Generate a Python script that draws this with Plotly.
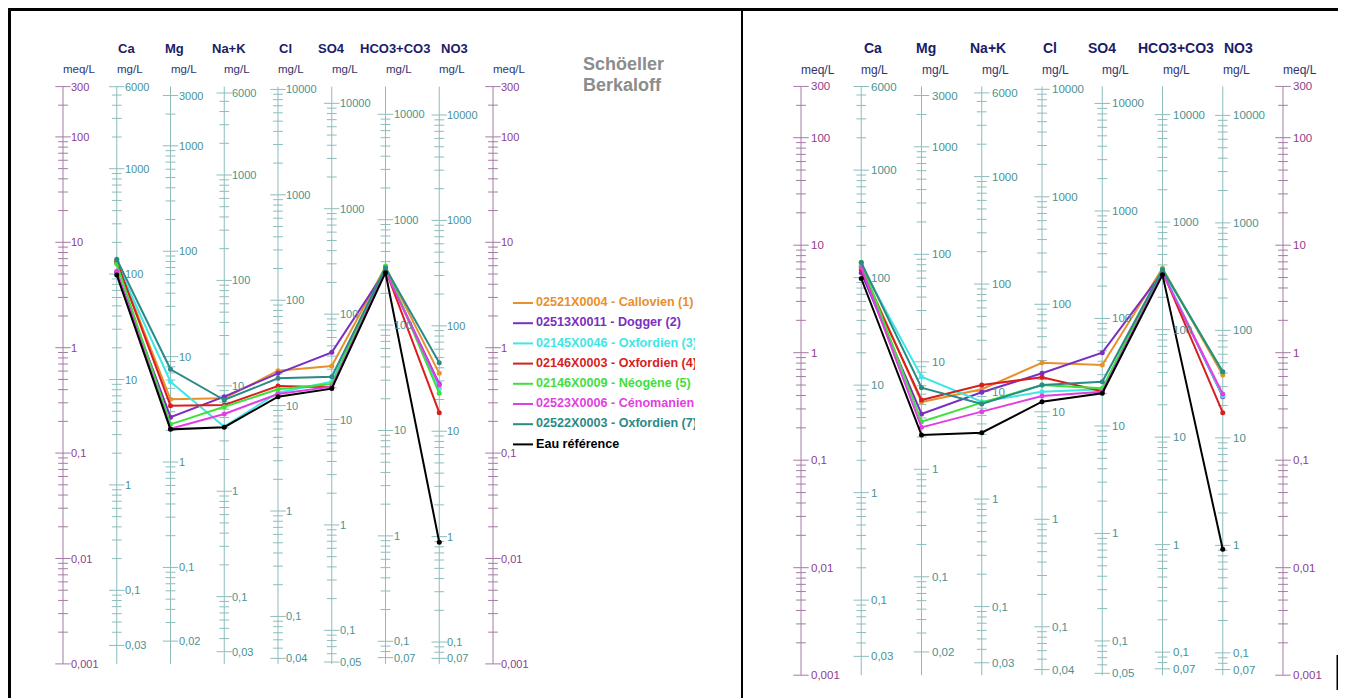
import plotly.graph_objects as go
import numpy as np

# page body has an 8px margin: figure is drawn in viewport coords minus OFF
OFF = 8
W, H = 1346 - OFF, 698 - OFF

# ---------------- data ----------------
ions = ["Ca", "Mg", "Na+K", "Cl", "SO4", "HCO3+CO3", "NO3"]
eq_weights = [20.04, 12.153, 22.99, 35.453, 48.03, 61.017, 62.005]
meq_range = [0.001, 300]
meq_labels = [300, 100, 10, 1, 0.1, 0.01, 0.001]
ca_labels = [6000, 1000, 100, 10, 1, 0.1, 0.03]
mg_labels = [3000, 1000, 100, 10, 1, 0.1, 0.02]
nak_labels = [6000, 1000, 100, 10, 1, 0.1, 0.03]
cl_labels = [10000, 1000, 100, 10, 1, 0.1, 0.04]
so4_labels = [10000, 1000, 100, 10, 1, 0.1, 0.05]
hco3_labels = [10000, 1000, 100, 10, 1, 0.1, 0.07]
no3_labels = [10000, 1000, 100, 10, 1, 0.1, 0.07]
ion_labels = [ca_labels, mg_labels, nak_labels, cl_labels, so4_labels, hco3_labels, no3_labels]

series_names = ["02521X0004 - Callovien (1)", "02513X0011 - Dogger (2)",
                "02145X0046 - Oxfordien (3)", "02146X0003 - Oxfordien (4)",
                "02146X0009 - Néogène (5)", "02523X0006 - Cénomanien (6)",
                "02522X0003 - Oxfordien (7)", "Eau référence"]
series_colors = ["#E8902C", "#7A2FC0", "#3FE6E6", "#D81E1E",
                 "#3EE03E", "#E23FE2", "#2A8A88", "#000000"]

# values in meq/L, order: Ca, Mg, Na+K, Cl, SO4, HCO3+CO3, NO3
left_s1 = [6.6, 0.324, 0.331, 0.605, 0.670, 5.85, 0.571]
left_s2 = [5.19, 0.219, 0.343, 0.571, 0.904, 5.4, 0.453]
left_s3 = [6.4, 0.475, 0.178, 0.374, 0.476, 5.6, 0.41]
left_s4 = [6.55, 0.282, 0.286, 0.433, 0.421, 5.5, 0.242]
left_s5 = [6.22, 0.1875, 0.275, 0.403, 0.453, 5.95, 0.369]
left_s6 = [5.3, 0.170, 0.235, 0.364, 0.427, 5.3, 0.442]
left_s7 = [6.9, 0.624, 0.319, 0.513, 0.531, 5.7, 0.721]
left_ref = [4.9, 0.168, 0.176, 0.343, 0.409, 5.15, 0.01425]

right_s1 = [6.3, 0.348, 0.457, 0.807, 0.768, 6.1, 0.621]
right_s2 = [5.55, 0.269, 0.428, 0.643, 1.0, 5.6, 0.390]
right_s3 = [6.5, 0.598, 0.350, 0.434, 0.457, 5.8, 0.395]
right_s4 = [5.9, 0.363, 0.501, 0.590, 0.438, 5.7, 0.277]
right_s5 = [6.95, 0.228, 0.343, 0.501, 0.466, 6.0, 0.66]
right_s6 = [6.2, 0.202, 0.283, 0.396, 0.434, 5.5, 0.413]
right_s7 = [6.9, 0.472, 0.333, 0.501, 0.537, 5.9, 0.666]
right_ref = [4.9, 0.1715, 0.180, 0.350, 0.419, 5.3, 0.01483]

left_series = [left_s1, left_s2, left_s3, left_s4, left_s5, left_s6, left_s7, left_ref]
right_series = [right_s1, right_s2, right_s3, right_s4, right_s5, right_s6, right_s7, right_ref]

# ---------------- styles / layout ----------------
ION_LINE = "#8DBDBD"
ION_TEXT = "#4A9292"
MEQ_LINE = "#A57AA5"
MEQ_TEXT = "#8E3C8E"
HEAD_COL = "#1C1C66"
UNIT_COL = "#2E3470"
FONT = "Liberation Sans, Arial, sans-serif"


def vx(x):
    """viewport pixel x -> figure pixel x"""
    return x - OFF


def vy(y):
    return y - OFF


panels = [
    dict(xa="x", ya="y", axname="xaxis", yaname="yaxis", px0=vx(63), dpx=53.75,
         dom=(0, vx(742)), y1=vy(347.7), dec=105.4, series=left_series, lshift=6,
         hshift=[10, 4, 5, 7, 0, 9, 15], head_y=vy(48), unit_y=vy(69),
         fs_lab=11, fs_head=13, fs_unit=11.5),
    dict(xa="x2", ya="y2", axname="xaxis2", yaname="yaxis2", px0=vx(801), dpx=60.25,
         dom=(vx(742), W), y1=vy(352.7), dec=107.5, series=right_series, lshift=8,
         hshift=[12, 4, 6, 8, 0, 13, 16], head_y=vy(48), unit_y=vy(70),
         fs_lab=11.5, fs_head=14, fs_unit=12),
]


def fmt(v):
    return ("%g" % v).replace(".", ",")


def ticks_for(labels, scale):
    lo, hi = min(labels), max(labels)
    minors = []
    for n in range(-3, 6):
        for k in range(2, 10):
            v = float("%.6g" % (k * 10.0 ** n))
            if v < lo * 0.999 or v > hi * 1.001:
                continue
            if any(np.isclose(v, l) for l in labels):
                continue
            minors.append(v / scale)
    majors = [l / scale for l in labels]
    return majors, minors


fig = go.Figure()
annotations = []

for P in panels:
    xa, ya = P["xa"], P["ya"]
    n_ax = 9
    scales = [1.0] + eq_weights + [1.0]
    labsets = [meq_labels] + ion_labels + [meq_labels]
    for i in range(n_ax):
        is_meq = i in (0, n_ax - 1)
        fig.add_trace(go.Scatter(x=[i, i], y=meq_range, mode="lines",
                                 line=dict(color=MEQ_LINE if is_meq else ION_LINE, width=1),
                                 xaxis=xa, yaxis=ya, hoverinfo="skip", showlegend=False))
    for i in range(n_ax):
        is_meq = i in (0, n_ax - 1)
        col = MEQ_LINE if is_meq else ION_LINE
        majors, minors = ticks_for(labsets[i], scales[i])
        fig.add_trace(go.Scatter(x=[i] * len(majors), y=majors, mode="markers",
                                 marker=dict(symbol="line-ew", size=11, line=dict(width=1, color=col)),
                                 xaxis=xa, yaxis=ya, hoverinfo="skip", showlegend=False))
        fig.add_trace(go.Scatter(x=[i] * len(minors), y=minors, mode="markers",
                                 marker=dict(symbol="line-ew", size=7, line=dict(width=1, color=col)),
                                 xaxis=xa, yaxis=ya, hoverinfo="skip", showlegend=False))
        for lab in labsets[i]:
            annotations.append(dict(x=i, y=np.log10(lab / scales[i]), xref=xa, yref=ya,
                                    text=fmt(lab), showarrow=False, xanchor="left",
                                    yanchor="middle", xshift=P["lshift"],
                                    font=dict(size=P["fs_lab"], color=MEQ_TEXT if is_meq else ION_TEXT,
                                              family=FONT)))
    for j, ion in enumerate(ions):
        annotations.append(dict(x=j + 1, y=1 - P["head_y"] / H, xref=xa, yref="paper",
                                text="<b>%s</b>" % ion, showarrow=False, xanchor="center",
                                yanchor="middle", xshift=P["hshift"][j],
                                font=dict(size=P["fs_head"], color=HEAD_COL, family=FONT)))
    units = ["meq/L"] + ["mg/L"] * 7 + ["meq/L"]
    for i, u in enumerate(units):
        annotations.append(dict(x=i, y=1 - P["unit_y"] / H, xref=xa, yref="paper",
                                text=u, showarrow=False, xanchor="left", yanchor="middle",
                                xshift=-2, font=dict(size=P["fs_unit"], color=UNIT_COL, family=FONT)))
    for s, name, col in zip(P["series"], series_names, series_colors):
        fig.add_trace(go.Scatter(x=list(range(1, 8)), y=s, mode="lines+markers", name=name,
                                 line=dict(color=col, width=2), marker=dict(color=col, size=5),
                                 xaxis=xa, yaxis=ya, showlegend=False, cliponaxis=False))

# manual legend (text clipped at the panel's visible limit)
leg_x0, leg_x1 = vx(505), vx(695)
row_y0, row_dy = vy(303), 20.2
for k, (name, col) in enumerate(zip(series_names, series_colors)):
    yy = row_y0 + k * row_dy
    fig.add_trace(go.Scatter(x=[vx(513), vx(533)], y=[yy, yy], mode="lines",
                             line=dict(color=col, width=2),
                             xaxis="x3", yaxis="y3", hoverinfo="skip", showlegend=False))
    fig.add_trace(go.Scatter(x=[vx(536)], y=[yy], mode="text", text=["<b>%s</b>" % name],
                             textposition="middle right",
                             textfont=dict(size=12.6, color=col, family=FONT),
                             xaxis="x3", yaxis="y3", hoverinfo="skip", showlegend=False,
                             cliponaxis=True))

for txt, yv in (("Schöeller", 64), ("Berkaloff", 85)):
    annotations.append(dict(x=vx(581) / W, y=1 - vy(yv) / H, xref="paper", yref="paper",
                            text="<b>%s</b>" % txt, showarrow=False, xanchor="left",
                            yanchor="middle", font=dict(size=18, color="#8C8C8C", family=FONT)))


def px(xp):
    return vx(xp) / W


def py(yp):
    return 1 - vy(yp) / H


shapes = [
    dict(type="line", xref="paper", yref="paper", x0=px(9), x1=px(1341), y0=py(9.5), y1=py(9.5),
         line=dict(color="black", width=3)),
    dict(type="line", xref="paper", yref="paper", x0=px(9.5), x1=px(9.5), y0=py(8), y1=py(698),
         line=dict(color="black", width=3)),
    dict(type="line", xref="paper", yref="paper", x0=px(742), x1=px(742), y0=py(8), y1=py(698),
         line=dict(color="black", width=2)),
    dict(type="line", xref="paper", yref="paper", x0=px(1338), x1=px(1338), y0=py(655), y1=py(690),
         line=dict(color="black", width=3)),
]

layout_axes = {}
for P in panels:
    d0, d1 = P["dom"]
    layout_axes[P["axname"]] = dict(domain=[d0 / W, d1 / W],
                                    range=[(d0 - P["px0"]) / P["dpx"], (d1 - P["px0"]) / P["dpx"]],
                                    visible=False, fixedrange=True)
    layout_axes[P["yaname"]] = dict(domain=[0, 1], type="log", anchor=P["xa"],
                                    range=[(P["y1"] - H) / P["dec"], P["y1"] / P["dec"]],
                                    visible=False, fixedrange=True)
layout_axes["xaxis3"] = dict(domain=[leg_x0 / W, leg_x1 / W], range=[leg_x0, leg_x1],
                             visible=False, fixedrange=True)
layout_axes["yaxis3"] = dict(domain=[0, 1], range=[H, 0], anchor="x3", visible=False, fixedrange=True)

fig.update_layout(width=W, height=H, margin=dict(l=0, r=0, t=0, b=0),
                  paper_bgcolor="white", plot_bgcolor="rgba(0,0,0,0)",
                  annotations=annotations, shapes=shapes, showlegend=False,
                  font=dict(family=FONT), **layout_axes)

fig.write_html("out.html")
